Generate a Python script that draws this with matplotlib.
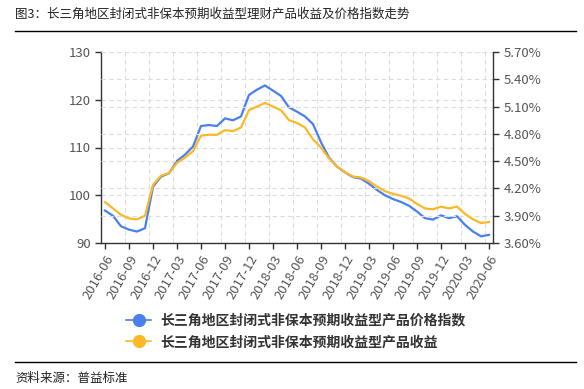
import pandas as pd
import numpy as np
import matplotlib
matplotlib.use("Agg")
import matplotlib.pyplot as plt
from matplotlib.lines import Line2D

plt.rcParams['font.family'] = ['Noto Sans CJK SC', 'DejaVu Sans']

# monthly data, 2016-06 .. 2020-06
months = pd.date_range("2016-06-01", "2020-06-01", freq="MS").strftime("%Y-%m").tolist()
price_index = [96.8, 95.7, 93.5, 92.8, 92.4, 93.1, 101.8,
               103.9, 104.6, 107.2, 108.5, 110.2, 114.5, 114.7, 114.5, 116.1, 115.7, 116.5, 121.0,
               122.1, 123.0, 121.9, 120.8, 118.4, 117.5, 116.5, 114.9, 111.1, 107.9, 106.0, 104.8,
               103.8, 103.5, 102.4, 101.1, 100.0, 99.2, 98.6, 97.8, 96.6, 95.2, 94.9, 95.8,
               95.2, 95.6, 93.8, 92.4, 91.4, 91.7]
yield_pct = [4.05, 3.98, 3.91, 3.87, 3.86, 3.90, 4.24,
             4.34, 4.37, 4.48, 4.54, 4.61, 4.78, 4.79, 4.79, 4.84, 4.83, 4.87, 5.06,
             5.10, 5.14, 5.10, 5.06, 4.95, 4.92, 4.87, 4.74, 4.65, 4.53, 4.44, 4.38,
             4.33, 4.32, 4.28, 4.22, 4.17, 4.14, 4.12, 4.09, 4.03, 3.98, 3.97, 4.00,
             3.98, 4.00, 3.92, 3.86, 3.82, 3.83]
left_ticks = [90, 100, 110, 120, 130]
right_ticks = [3.6, 3.9, 4.2, 4.5, 4.8, 5.1, 5.4, 5.7]

label_price = "长三角地区封闭式非保本预期收益型产品价格指数"
label_yield = "长三角地区封闭式非保本预期收益型产品收益"

blue = "#4a7ff0"
yellow = "#fbb827"
grid_c = "#dcdcdc"
axis_c = "#333333"
text_c = "#555555"

x = np.arange(len(months))

fig = plt.figure(figsize=(5.84, 3.89), dpi=100)
ax = fig.add_axes([101/584, 1-243/389, 392/584, 191/389])
ax2 = ax.twinx()

# grid: horizontal from both axes, vertical at category boundaries
for v in left_ticks:
    ax.axhline(v, color=grid_c, lw=0.8, ls=(0, (4, 3)), zorder=0)
for v in right_ticks:
    ax2.axhline(v, color=grid_c, lw=0.8, ls=(0, (4, 3)), zorder=0)
for g in np.arange(2.5, 48, 3):
    ax.axvline(g, color=grid_c, lw=0.8, ls=(0, (4, 3)), zorder=0)

ax.plot(x, price_index, color=blue, lw=1.6, zorder=3)
ax2.plot(x, yield_pct, color=yellow, lw=1.6, zorder=3)

ax.set_xlim(-0.5, len(months) - 0.5)
ax.set_ylim(90, 130)
ax.set_yticks(left_ticks)
ax2.set_ylim(3.6, 5.7)
ax2.set_yticks(right_ticks)
ax2.set_yticklabels(["%.2f%%" % v for v in right_ticks])

ax.set_xticks(x[::3])
ax.set_xticklabels(months[::3], rotation=60, ha="right", rotation_mode="anchor")

for a in (ax, ax2):
    a.spines['top'].set_visible(False)
    for s in a.spines.values():
        s.set_color(axis_c)
        s.set_linewidth(1.0)
    a.tick_params(colors=axis_c, labelcolor=text_c, labelsize=9.5, length=4, width=1)
ax.spines['right'].set_visible(False)
ax2.spines['left'].set_visible(False)
ax2.spines['bottom'].set_visible(False)
ax.tick_params(axis='x', pad=3)

# title and rules
fig.text(15/584, 1-14/389, "图3：长三角地区封闭式非保本预期收益型理财产品收益及价格指数走势",
         fontsize=9, color="#222222", va="center", ha="left")
fig.add_artist(Line2D([15/584, 576/584], [1-31/389, 1-31/389], color="black", lw=1))
fig.add_artist(Line2D([15/584, 576/584], [1-362/389, 1-362/389], color="black", lw=1))
fig.text(15/584, 1-378/389, "资料来源：普益标准", fontsize=9, color="#222222", va="center", ha="left")

handles = [Line2D([], [], color=blue, lw=1.2, marker="o", markersize=8.5),
           Line2D([], [], color=yellow, lw=1.2, marker="o", markersize=8.5)]
fig.legend(handles, [label_price, label_yield], loc="center left",
           bbox_to_anchor=(126/584, 1-331.5/389), frameon=False,
           handlelength=1.8, handletextpad=0.65, labelspacing=0.55, borderpad=0,
           borderaxespad=0, labelcolor="#333333", prop={'weight': 'bold', 'size': 10})

fig.savefig("out.png", dpi=100)
